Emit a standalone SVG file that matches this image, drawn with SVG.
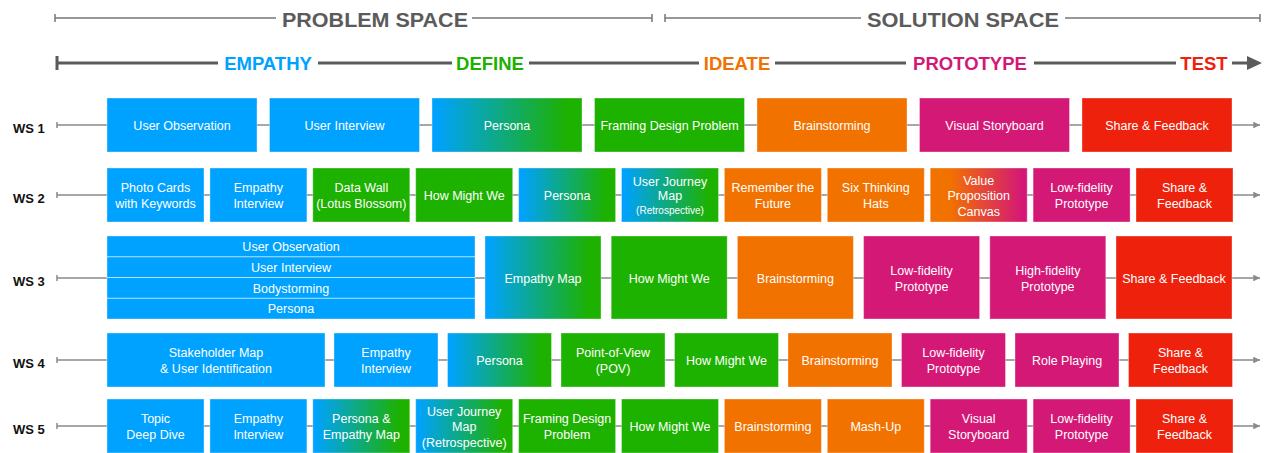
<svg xmlns="http://www.w3.org/2000/svg" width="1266" height="453" viewBox="0 0 1266 453">
  <style>
    text { font-family: "Liberation Sans", Arial, sans-serif; }
    .hdr { font-size: 21px; font-weight: bold; fill: #5b5b5b; text-anchor: middle; }
    .ph { font-size: 18.5px; font-weight: bold; text-anchor: middle; }
    .ws { font-size: 13px; font-weight: bold; fill: #111; }
    .t { font-size: 12.5px; fill: #fff; text-anchor: middle; }
    .ts { font-size: 10px; fill: #fff; text-anchor: middle; }
    .box { stroke: #ffffff; stroke-opacity: 0.35; stroke-width: 1; }
    .b { fill: #00A2FF; }
    .g { fill: #1DB100; }
    .o { fill: #F27200; }
    .m { fill: #D41876; }
    .r { fill: #EE220C; }
    .bg { fill: url(#blueGreen); }
    .om { fill: url(#orangeMagenta); }
    .space { stroke: #777; stroke-width: 1.5; fill: none; }
    .phase { stroke: #5b5b5b; stroke-width: 3; fill: none; }
    .row { stroke: #8a8a8a; stroke-width: 1.5; fill: none; }
    .sep { stroke: #ffffff; stroke-width: 1; stroke-opacity: 0.7; }
  </style>
  <defs>
    <linearGradient id="blueGreen" x1="0" y1="0" x2="1" y2="0">
      <stop offset="0.02" stop-color="#00A2FF"/>
      <stop offset="0.9" stop-color="#1DB100"/>
    </linearGradient>
    <linearGradient id="orangeMagenta" x1="0" y1="0" x2="1" y2="0">
      <stop offset="0.2" stop-color="#F27200"/>
      <stop offset="0.95" stop-color="#D41876"/>
    </linearGradient>
    <marker id="rowArrow" viewBox="0 0 10 10" refX="10" refY="5" markerWidth="5" markerHeight="4.5" orient="auto" markerUnits="strokeWidth">
      <path d="M0,0 L10,5 L0,10 z" fill="#8a8a8a"/>
    </marker>
  </defs>

  <!-- Problem / solution space brackets -->
  <g id="spaces">
    <path class="space" d="M55,18 H276 M472,18 H652 M55,14 V22 M652,14 V22"/>
    <text class="hdr" x="375" y="27" textLength="186" lengthAdjust="spacingAndGlyphs">PROBLEM SPACE</text>
    <path class="space" d="M665,18 H861 M1065,18 H1260 M665,14 V22 M1260,14 V22"/>
    <text class="hdr" x="963" y="27" textLength="192" lengthAdjust="spacingAndGlyphs">SOLUTION SPACE</text>
  </g>

  <!-- Phase axis -->
  <g id="phases">
    <path class="phase" d="M57,63 H218 M318,63 H452 M529,63 H699 M775,63 H906 M1034,63 H1176 M1232,63 H1250 M57,56 V70"/>
    <path d="M1247,56 L1262,63 L1247,70 z" fill="#5b5b5b"/>
    <text class="ph" x="268" y="70" fill="#00A2FF">EMPATHY</text>
    <text class="ph" x="490" y="70" fill="#1DB100">DEFINE</text>
    <text class="ph" x="737" y="70" fill="#F27200">IDEATE</text>
    <text class="ph" x="970" y="70" fill="#D41876">PROTOTYPE</text>
    <text class="ph" x="1204" y="70" fill="#EE220C">TEST</text>
  </g>

  <!-- Workshop timelines -->
  <g id="connectors">
    <path class="row" d="M57,125 H1260" marker-end="url(#rowArrow)"/>
    <path class="row" d="M57,122 V128"/>
    <path class="row" d="M57,195 H1260" marker-end="url(#rowArrow)"/>
    <path class="row" d="M57,192 V198"/>
    <path class="row" d="M57,278 H1260" marker-end="url(#rowArrow)"/>
    <path class="row" d="M57,275 V281"/>
    <path class="row" d="M57,360 H1260" marker-end="url(#rowArrow)"/>
    <path class="row" d="M57,357 V363"/>
    <path class="row" d="M57,426 H1260" marker-end="url(#rowArrow)"/>
    <path class="row" d="M57,423 V429"/>
  </g>

  <!-- Row labels -->
  <g id="labels">
    <text class="ws" x="13" y="133">WS 1</text>
    <text class="ws" x="13" y="203">WS 2</text>
    <text class="ws" x="13" y="286">WS 3</text>
    <text class="ws" x="13" y="368">WS 4</text>
    <text class="ws" x="13" y="434">WS 5</text>
  </g>

  <!-- WS 1 -->
  <g id="ws1">
    <g id="ws1-user-observation"><rect class="box b" x="107" y="98" width="150" height="54"/><text class="t" x="182" y="129.5">User Observation</text></g>
    <g id="ws1-user-interview"><rect class="box b" x="269.5" y="98" width="150" height="54"/><text class="t" x="344.5" y="129.5">User Interview</text></g>
    <g id="ws1-persona"><rect class="box bg" x="432" y="98" width="150" height="54"/><text class="t" x="507" y="129.5">Persona</text></g>
    <g id="ws1-framing"><rect class="box g" x="594.5" y="98" width="150" height="54"/><text class="t" x="669.5" y="129.5">Framing Design Problem</text></g>
    <g id="ws1-brainstorming"><rect class="box o" x="757" y="98" width="150" height="54"/><text class="t" x="832" y="129.5">Brainstorming</text></g>
    <g id="ws1-storyboard"><rect class="box m" x="919.5" y="98" width="150" height="54"/><text class="t" x="994.5" y="129.5">Visual Storyboard</text></g>
    <g id="ws1-share"><rect class="box r" x="1082" y="98" width="150" height="54"/><text class="t" x="1157" y="129.5">Share &amp; Feedback</text></g>
  </g>

  <!-- WS 2 -->
  <g id="ws2">
    <g id="ws2-photo-cards"><rect class="box b" x="107" y="168" width="97" height="54"/><text class="t" x="155.5" y="192">Photo Cards</text><text class="t" x="155.5" y="207.5">with Keywords</text></g>
    <g id="ws2-empathy-interview"><rect class="box b" x="209.9" y="168" width="97" height="54"/><text class="t" x="258.4" y="192">Empathy</text><text class="t" x="258.4" y="207.5">Interview</text></g>
    <g id="ws2-data-wall"><rect class="box g" x="312.8" y="168" width="97" height="54"/><text class="t" x="361.3" y="192">Data Wall</text><text class="t" x="361.3" y="207.5">(Lotus Blossom)</text></g>
    <g id="ws2-hmw"><rect class="box g" x="415.7" y="168" width="97" height="54"/><text class="t" x="464.2" y="199.5">How Might We</text></g>
    <g id="ws2-persona"><rect class="box bg" x="518.6" y="168" width="97" height="54"/><text class="t" x="567.1" y="199.5">Persona</text></g>
    <g id="ws2-journey"><rect class="box bg" x="621.5" y="168" width="97" height="54"/><text class="t" x="670" y="185.5">User Journey</text><text class="t" x="670" y="200">Map</text><text class="ts" x="670" y="214">(Retrospective)</text></g>
    <g id="ws2-remember"><rect class="box o" x="724.4" y="168" width="97" height="54"/><text class="t" x="772.9" y="192">Remember the</text><text class="t" x="772.9" y="207.5">Future</text></g>
    <g id="ws2-six-hats"><rect class="box o" x="827.3" y="168" width="97" height="54"/><text class="t" x="875.8" y="192">Six Thinking</text><text class="t" x="875.8" y="207.5">Hats</text></g>
    <g id="ws2-value-prop"><rect class="box om" x="930.2" y="168" width="97" height="54"/><text class="t" x="978.7" y="184.5">Value</text><text class="t" x="978.7" y="200">Proposition</text><text class="t" x="978.7" y="215.5">Canvas</text></g>
    <g id="ws2-lofi"><rect class="box m" x="1033.1" y="168" width="97" height="54"/><text class="t" x="1081.6" y="192">Low-fidelity</text><text class="t" x="1081.6" y="207.5">Prototype</text></g>
    <g id="ws2-share"><rect class="box r" x="1136" y="168" width="97" height="54"/><text class="t" x="1184.5" y="192">Share &amp;</text><text class="t" x="1184.5" y="207.5">Feedback</text></g>
  </g>

  <!-- WS 3 -->
  <g id="ws3">
    <g id="ws3-empathize-stack">
      <rect class="box b" x="107" y="236" width="368" height="83"/>
      <line class="sep" x1="107" y1="256.75" x2="475" y2="256.75"/>
      <line class="sep" x1="107" y1="277.5" x2="475" y2="277.5"/>
      <line class="sep" x1="107" y1="298.25" x2="475" y2="298.25"/>
      <text class="t" x="291" y="250.5">User Observation</text>
      <text class="t" x="291" y="271.5">User Interview</text>
      <text class="t" x="291" y="292.5">Bodystorming</text>
      <text class="t" x="291" y="313">Persona</text>
    </g>
    <g id="ws3-empathy-map"><rect class="box bg" x="485" y="236" width="116" height="83"/><text class="t" x="543" y="282.5">Empathy Map</text></g>
    <g id="ws3-hmw"><rect class="box g" x="611.2" y="236" width="116" height="83"/><text class="t" x="669.2" y="282.5">How Might We</text></g>
    <g id="ws3-brainstorming"><rect class="box o" x="737.4" y="236" width="116" height="83"/><text class="t" x="795.4" y="282.5">Brainstorming</text></g>
    <g id="ws3-lofi"><rect class="box m" x="863.6" y="236" width="116" height="83"/><text class="t" x="921.6" y="275">Low-fidelity</text><text class="t" x="921.6" y="290.5">Prototype</text></g>
    <g id="ws3-hifi"><rect class="box m" x="989.8" y="236" width="116" height="83"/><text class="t" x="1047.8" y="275">High-fidelity</text><text class="t" x="1047.8" y="290.5">Prototype</text></g>
    <g id="ws3-share"><rect class="box r" x="1116" y="236" width="116" height="83"/><text class="t" x="1174" y="282.5">Share &amp; Feedback</text></g>
  </g>

  <!-- WS 4 -->
  <g id="ws4">
    <g id="ws4-stakeholder"><rect class="box b" x="107" y="333" width="218" height="54"/><text class="t" x="216" y="357">Stakeholder Map</text><text class="t" x="216" y="372.5">&amp; User Identification</text></g>
    <g id="ws4-empathy-interview"><rect class="box b" x="334" y="333" width="104" height="54"/><text class="t" x="386" y="357">Empathy</text><text class="t" x="386" y="372.5">Interview</text></g>
    <g id="ws4-persona"><rect class="box bg" x="447.5" y="333" width="104" height="54"/><text class="t" x="499.5" y="364.5">Persona</text></g>
    <g id="ws4-pov"><rect class="box g" x="561" y="333" width="104" height="54"/><text class="t" x="613" y="357">Point-of-View</text><text class="t" x="613" y="372.5">(POV)</text></g>
    <g id="ws4-hmw"><rect class="box g" x="674.5" y="333" width="104" height="54"/><text class="t" x="726.5" y="364.5">How Might We</text></g>
    <g id="ws4-brainstorming"><rect class="box o" x="788" y="333" width="104" height="54"/><text class="t" x="840" y="364.5">Brainstorming</text></g>
    <g id="ws4-lofi"><rect class="box m" x="901.5" y="333" width="104" height="54"/><text class="t" x="953.5" y="357">Low-fidelity</text><text class="t" x="953.5" y="372.5">Prototype</text></g>
    <g id="ws4-role-playing"><rect class="box m" x="1015" y="333" width="104" height="54"/><text class="t" x="1067" y="364.5">Role Playing</text></g>
    <g id="ws4-share"><rect class="box r" x="1128.5" y="333" width="104" height="54"/><text class="t" x="1180.5" y="357">Share &amp;</text><text class="t" x="1180.5" y="372.5">Feedback</text></g>
  </g>

  <!-- WS 5 -->
  <g id="ws5">
    <g id="ws5-topic"><rect class="box b" x="107" y="399" width="97" height="54"/><text class="t" x="155.5" y="423">Topic</text><text class="t" x="155.5" y="438.5">Deep Dive</text></g>
    <g id="ws5-empathy-interview"><rect class="box b" x="209.9" y="399" width="97" height="54"/><text class="t" x="258.4" y="423">Empathy</text><text class="t" x="258.4" y="438.5">Interview</text></g>
    <g id="ws5-persona-map"><rect class="box bg" x="312.8" y="399" width="97" height="54"/><text class="t" x="361.3" y="423">Persona &amp;</text><text class="t" x="361.3" y="438.5">Empathy Map</text></g>
    <g id="ws5-journey"><rect class="box bg" x="415.7" y="399" width="97" height="54"/><text class="t" x="464.2" y="415.5">User Journey</text><text class="t" x="464.2" y="431">Map</text><text class="t" x="464.2" y="446.5">(Retrospective)</text></g>
    <g id="ws5-framing"><rect class="box g" x="518.6" y="399" width="97" height="54"/><text class="t" x="567.1" y="423">Framing Design</text><text class="t" x="567.1" y="438.5">Problem</text></g>
    <g id="ws5-hmw"><rect class="box g" x="621.5" y="399" width="97" height="54"/><text class="t" x="670" y="430.5">How Might We</text></g>
    <g id="ws5-brainstorming"><rect class="box o" x="724.4" y="399" width="97" height="54"/><text class="t" x="772.9" y="430.5">Brainstorming</text></g>
    <g id="ws5-mashup"><rect class="box o" x="827.3" y="399" width="97" height="54"/><text class="t" x="875.8" y="430.5">Mash-Up</text></g>
    <g id="ws5-storyboard"><rect class="box m" x="930.2" y="399" width="97" height="54"/><text class="t" x="978.7" y="423">Visual</text><text class="t" x="978.7" y="438.5">Storyboard</text></g>
    <g id="ws5-lofi"><rect class="box m" x="1033.1" y="399" width="97" height="54"/><text class="t" x="1081.6" y="423">Low-fidelity</text><text class="t" x="1081.6" y="438.5">Prototype</text></g>
    <g id="ws5-share"><rect class="box r" x="1136" y="399" width="97" height="54"/><text class="t" x="1184.5" y="423">Share &amp;</text><text class="t" x="1184.5" y="438.5">Feedback</text></g>
  </g>
</svg>
